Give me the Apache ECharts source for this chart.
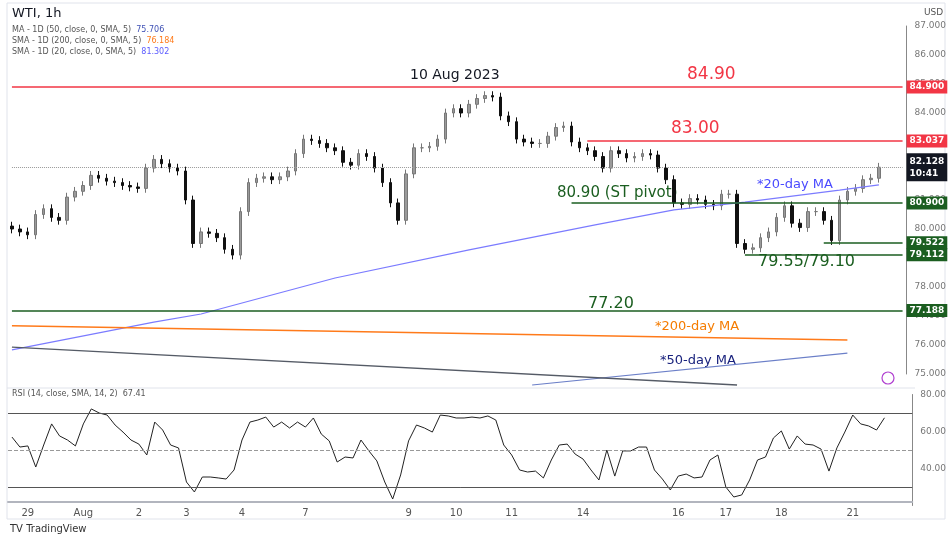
<!DOCTYPE html>
<html>
<head>
<meta charset="utf-8">
<script src="https://cdn.jsdelivr.net/npm/echarts@6/dist/echarts.min.js"></script>
<style>
  html, body { margin: 0; padding: 0; background: #fff; }
  #chart { width: 949px; height: 542px; }
</style>
</head>
<body>
<div id="chart"></div>
<script>
// WTI 1h closes (one candle per ~3 hours)
const closes = [
  80.0, 79.9, 79.8, 80.5, 80.7, 80.4, 80.3, 81.1, 81.3, 81.5,
  81.85, 81.75, 81.65, 81.6, 81.5, 81.45, 81.4, 82.1, 82.4, 82.25,
  82.1, 82.0, 81.0, 79.5, 79.9, 79.85, 79.7, 79.3, 79.1, 80.6,
  81.6, 81.75, 81.8, 81.7, 81.8, 82.0, 82.6, 83.1, 83.05, 82.95,
  82.8, 82.7, 82.3, 82.2, 82.6, 82.5, 82.1, 81.6, 80.9, 80.3,
  81.9, 82.8, 82.8, 82.85, 83.1, 84.0, 84.15, 84.0, 84.3, 84.5,
  84.6, 84.55, 83.9, 83.7, 83.1, 83.0, 82.95, 82.95, 83.2, 83.5,
  83.55, 83.0, 82.8, 82.7, 82.5, 82.1, 82.7, 82.6, 82.45, 82.5,
  82.6, 82.55, 82.1, 81.7, 80.9, 80.85, 81.05, 81.0, 80.85, 80.8,
  81.2, 81.2, 79.5, 79.3, 79.35, 79.7, 79.9, 80.4, 80.8, 80.2,
  80.05, 80.6, 80.6, 80.3, 79.6, 81.0, 81.3, 81.4, 81.7, 81.75, 82.13
];
const rsi = [
  57.0, 51.6, 52.2, 40.8, 52.7, 64.1, 57.6, 55.4, 52.2, 64.1,
  72.2, 70.0, 68.9, 63.5, 59.7, 55.4, 53.2, 47.3, 65.1, 60.8,
  52.7, 51.1, 32.7, 27.3, 35.4, 35.4, 34.9, 34.3, 39.2, 55.4,
  65.1, 66.2, 67.8, 62.4, 65.1, 61.9, 65.1, 62.4, 67.3, 58.6,
  54.9, 43.5, 46.2, 45.7, 55.4, 49.5, 44.1, 32.7, 23.5, 36.5,
  54.9, 63.5, 61.9, 59.7, 68.9, 68.4, 67.3, 67.3, 67.8, 67.3,
  68.4, 66.2, 52.7, 47.3, 39.2, 38.1, 38.6, 34.9, 44.6, 52.7,
  53.2, 47.8, 45.1, 39.2, 33.8, 50.0, 35.9, 49.5, 49.5, 51.6,
  51.6, 39.2, 34.3, 28.4, 35.9, 37.0, 34.9, 35.4, 44.6, 47.3,
  30.0, 24.6, 25.7, 33.8, 44.6, 46.2, 56.5, 60.3, 50.5, 57.6,
  53.2, 52.7, 50.5, 38.6, 51.1, 59.7, 68.9, 64.1, 63.0, 60.8, 67.4
];
const firstOpen = 80.1;
const wick = 0.15;
const slotCount = 114;

const dayTickIdx = [2, 9, 16, 22, 29, 37, 50, 56, 63, 72, 84, 90, 97, 106];
const dayLabels = ['29', 'Aug', '2', '3', '4', '7', '9', '10', '11', '14', '16', '17', '18', '21'];

// moving averages, [candle index, value]
const ma20 = [[0, 75.83], [18, 76.79], [24, 77.07], [41, 78.31], [58, 79.28], [74, 80.14], [84, 80.66], [93, 80.93], [105, 81.34], [110, 81.52]];
const ma200 = [[0, 76.66], [106, 76.17]];
const ma50 = [[66, 74.62], [106, 75.72]];
const maOther = [[0, 75.93], [92, 74.62]];

const priceTicks = { min: 75, max: 87 };
const lastPrice = 82.128;

const RED = '#f23645';
const GREEN = '#1b5e20';

const cats = [];
for (let i = 0; i < slotCount; i++) cats.push(String(i));

const candles = closes.map((c, i) => {
  const o = i === 0 ? firstOpen : closes[i - 1];
  return [o, c, Math.min(o, c) - wick, Math.max(o, c) + wick];
});

function badge(bg, text) {
  return {
    show: true, position: 'end', distance: 4, formatter: text,
    color: '#fff', backgroundColor: bg, padding: [2, 3], fontSize: 9,
    fontWeight: 'bold', fontFamily: 'DejaVu Sans'
  };
}
function level(fromIdx, price, color, text, width) {
  return [
    { coord: [fromIdx, price], lineStyle: { color: color, width: width || 1.5, type: 'solid' }, label: badge(color, text) },
    { coord: [slotCount - 1, price] }
  ];
}

const chart = echarts.init(document.getElementById('chart'));
const option = {
  animation: false,
  backgroundColor: '#fff',
  grid: [
    { left: 8, right: 34, top: 26, height: 348 },
    { left: 8, right: 34, top: 394.5, height: 111 }
  ],
  xAxis: [
    { type: 'category', data: cats, gridIndex: 0, show: false, boundaryGap: true },
    {
      type: 'category', data: cats, gridIndex: 1, boundaryGap: true,
      offset: -3.5,
      axisLine: { lineStyle: { color: '#b2b5be', width: 2 } },
      axisTick: { show: false },
      axisLabel: {
        interval: (i) => dayTickIdx.indexOf(i) >= 0,
        formatter: (v, i) => dayLabels[dayTickIdx.indexOf(Number(v))] || '',
        color: '#555', fontSize: 10, margin: 6, fontFamily: 'DejaVu Sans'
      }
    }
  ],
  yAxis: [
    {
      type: 'value', gridIndex: 0, position: 'right', min: priceTicks.min, max: priceTicks.max, interval: 1,
      splitLine: { show: false },
      axisLine: { show: true, lineStyle: { color: '#888' } },
      axisTick: { show: false },
      axisLabel: { formatter: (v) => v.toFixed(3), color: '#777', fontSize: 9, margin: 8, fontFamily: 'DejaVu Sans' }
    },
    {
      type: 'value', gridIndex: 1, position: 'right', min: 20, max: 80, interval: 20,
      splitLine: { show: false },
      axisLine: { show: true, lineStyle: { color: '#888' } },
      axisTick: { show: false },
      axisLabel: { showMinLabel: false, formatter: (v) => v.toFixed(2), color: '#777', fontSize: 9, margin: 8, fontFamily: 'DejaVu Sans' }
    }
  ],
  series: [
    {
      type: 'candlestick', data: candles, xAxisIndex: 0, yAxisIndex: 0, barMaxWidth: 3,
      itemStyle: { color: '#9a9a9a', color0: '#111', borderColor: '#777', borderColor0: '#111', borderWidth: 1 },
      markLine: {
        symbol: 'none', silent: true,
        data: [
          level(0, 84.9, RED, '84.900'),
          level(73, 83.037, RED, '83.037'),
          level(71, 80.9, GREEN, '80.900'),
          level(103, 79.522, GREEN, '79.522'),
          level(93, 79.112, GREEN, '79.112'),
          level(0, 77.188, GREEN, '77.188'),
          [
            { coord: [0, lastPrice], lineStyle: { color: '#999', width: 1, type: 'dotted' },
              label: Object.assign(badge('#131722', '82.128\n10:41'), { lineHeight: 12 }) },
            { coord: [slotCount - 1, lastPrice] }
          ]
        ]
      }
    },
    { type: 'line', data: ma20, showSymbol: false, clip: false, lineStyle: { color: '#7b7bff', width: 1.2 }, z: 3 },
    { type: 'line', data: ma200, showSymbol: false, clip: false, lineStyle: { color: '#ff7a1a', width: 1.5 } },
    { type: 'line', data: ma50, showSymbol: false, clip: false, lineStyle: { color: '#6b7fc8', width: 1.2 } },
    { type: 'line', data: maOther, showSymbol: false, clip: false, lineStyle: { color: '#555b66', width: 1.3 } },
    {
      type: 'line', data: rsi, xAxisIndex: 1, yAxisIndex: 1, showSymbol: false,
      lineStyle: { color: '#222', width: 1 },
      markLine: {
        symbol: 'none', silent: true, label: { show: false },
        data: [
          { yAxis: 70, lineStyle: { color: '#555', width: 1, type: 'solid' } },
          { yAxis: 50, lineStyle: { color: '#999', width: 1, type: 'dashed' } },
          { yAxis: 30, lineStyle: { color: '#555', width: 1, type: 'solid' } }
        ]
      }
    }
  ],
  graphic: [
    { type: 'rect', shape: { x: 7, y: 3, width: 938, height: 516 }, style: { fill: 'none', stroke: '#e0e3eb' }, silent: true },
    { type: 'line', shape: { x1: 7, y1: 388, x2: 915, y2: 388 }, style: { stroke: '#e0e3eb', lineWidth: 1 } },
    { type: 'text', left: 12, top: 7, style: { text: 'WTI, 1h', font: '13px "DejaVu Sans"', fill: '#131722' } },
    {
      type: 'text', left: 12, top: 24,
      style: {
        text: '{g|MA - 1D (50, close, 0, SMA, 5)}  {b|75.706}\n{g|SMA - 1D (200, close, 0, SMA, 5)}  {o|76.184}\n{g|SMA - 1D (20, close, 0, SMA, 5)}  {v|81.302}',
        font: '8px "DejaVu Sans"', lineHeight: 11,
        rich: {
          g: { fill: '#555', fontSize: 8, fontFamily: 'DejaVu Sans' },
          b: { fill: '#3f51b5', fontSize: 8, fontFamily: 'DejaVu Sans' },
          o: { fill: '#ff7a1a', fontSize: 8, fontFamily: 'DejaVu Sans' },
          v: { fill: '#5b5bff', fontSize: 8, fontFamily: 'DejaVu Sans' }
        }
      }
    },
    { type: 'text', left: 924, top: 8, style: { text: 'USD', font: '9px "DejaVu Sans"', fill: '#555' } },
    { type: 'text', left: 12, top: 390, style: { text: 'RSI (14, close, SMA, 14, 2)  67.41', font: '8px "DejaVu Sans"', fill: '#555' } },
    { type: 'text', left: 410, top: 68, style: { text: '10 Aug 2023', font: '500 14px "DejaVu Sans"', fill: '#131722' } },
    { type: 'text', left: 687, top: 66, style: { text: '84.90', font: '17px "DejaVu Sans"', fill: RED } },
    { type: 'text', left: 671, top: 120, style: { text: '83.00', font: '17px "DejaVu Sans"', fill: RED } },
    { type: 'text', left: 557, top: 186, style: { text: '80.90 (ST pivot)', font: '15px "DejaVu Sans"', fill: GREEN } },
    { type: 'text', left: 757, top: 178, style: { text: '*20-day MA', font: '13px "DejaVu Sans"', fill: '#4a4aff' } },
    { type: 'text', left: 758, top: 254, style: { text: '79.55/79.10', font: '16px "DejaVu Sans"', fill: GREEN } },
    { type: 'text', left: 588, top: 296, style: { text: '77.20', font: '16px "DejaVu Sans"', fill: GREEN } },
    { type: 'text', left: 655, top: 320, style: { text: '*200-day MA', font: '13px "DejaVu Sans"', fill: '#f57c00' } },
    { type: 'text', left: 660, top: 354, style: { text: '*50-day MA', font: '13px "DejaVu Sans"', fill: '#1a237e' } },
    { type: 'circle', shape: { cx: 888, cy: 378, r: 6 }, style: { fill: 'none', stroke: '#b040d0', lineWidth: 1.2 } },
    { type: 'text', left: 10, top: 524, style: { text: 'TV TradingView', font: '10px "DejaVu Sans"', fill: '#333' } }
  ]
};
chart.setOption(option);
</script>
</body>
</html>
